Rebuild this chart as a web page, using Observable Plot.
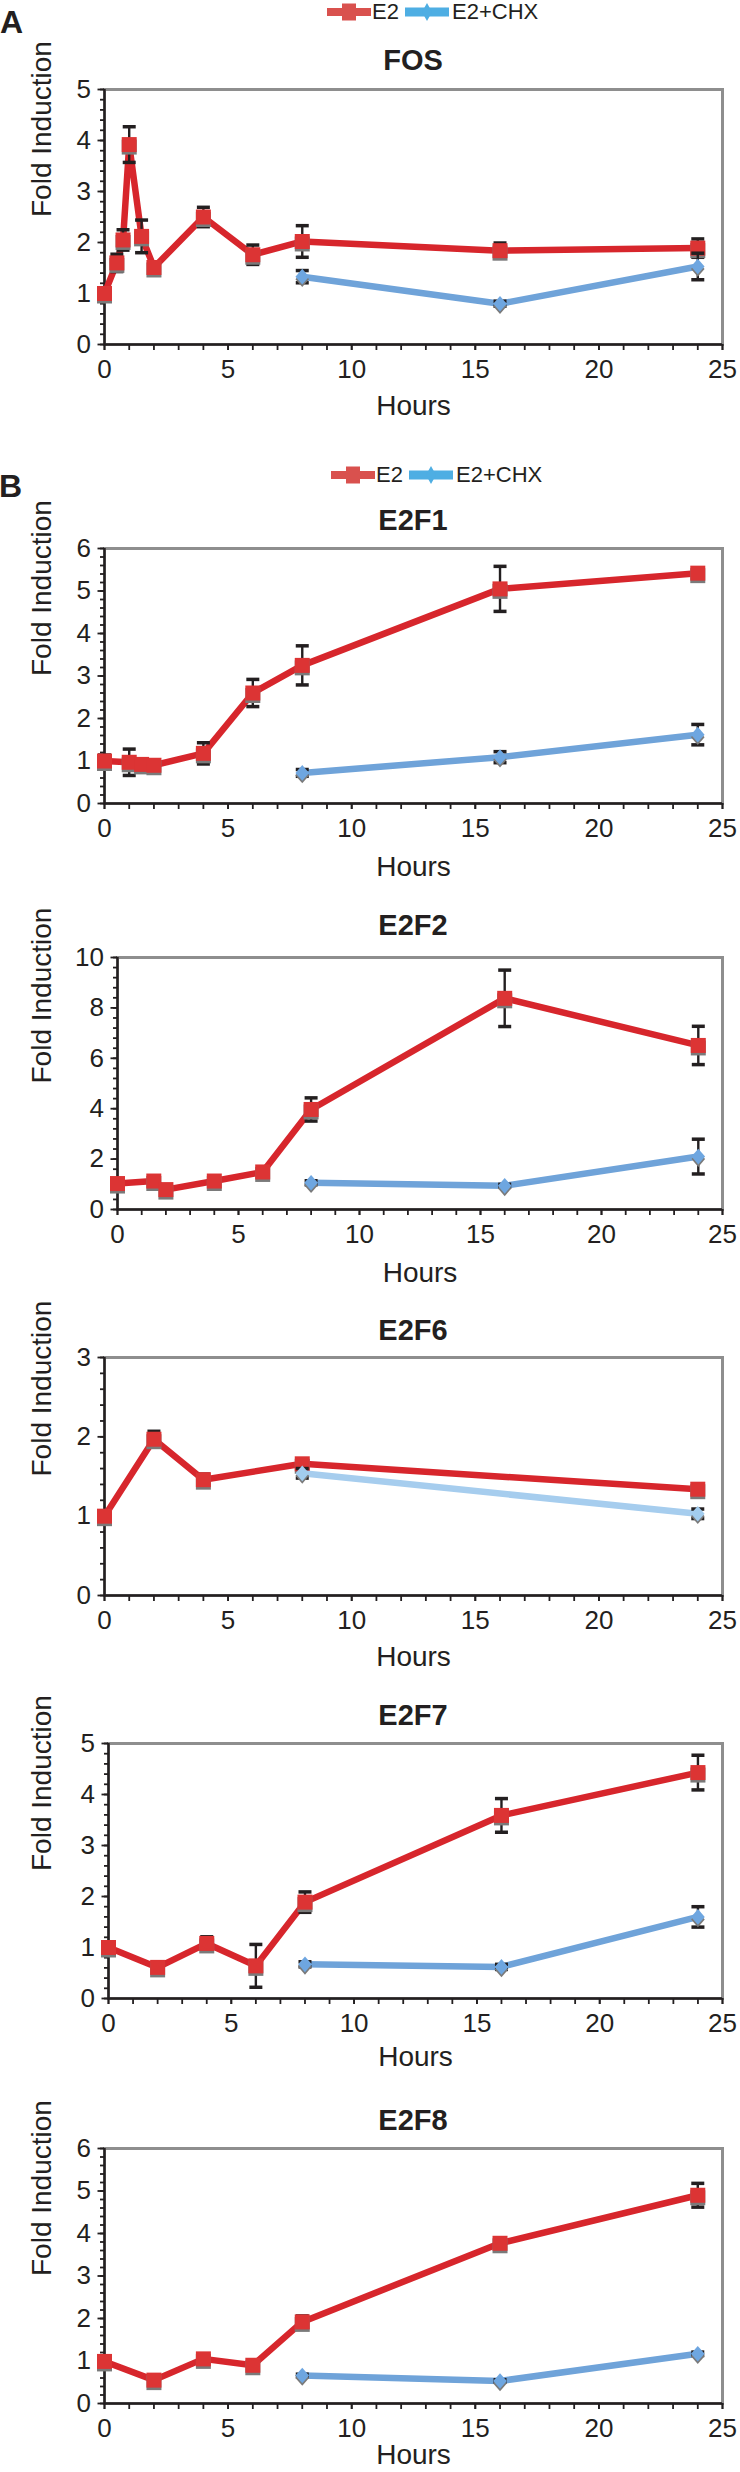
<!DOCTYPE html>
<html>
<head>
<meta charset="utf-8">
<script src="https://cdn.jsdelivr.net/npm/d3@7"></script>
<script src="https://cdn.jsdelivr.net/npm/@observablehq/plot@0.6"></script>
<style>
  body { margin: 0; background: #fff; }
  #root { position: relative; width: 740px; height: 2472px; overflow: hidden;
          font-family: "Liberation Sans", Arial, Helvetica, sans-serif; color: #231f20; }
  .abs { position: absolute; line-height: 1; white-space: nowrap; }
  .ttl { font-weight: bold; font-size: 29px; text-align: center; width: 300px; }
  .panel-letter { font-weight: bold; font-size: 32px; }
  .leg { font-size: 22px; }
</style>
</head>
<body>
<div id="root"></div>
<script>
// ---------------- DATA ----------------
const chxHours = [8, 16, 24];

const fosHours = [0, 0.5, 0.75, 1, 1.5, 2, 4, 6, 8, 16, 24];
const fosE2    = [1.00, 1.60, 2.05, 3.92, 2.12, 1.51, 2.50, 1.76, 2.02, 1.84, 1.89];
const fosE2Err = [0.08, 0.17, 0.20, 0.35, 0.32, 0.10, 0.19, 0.19, 0.31, 0.15, 0.18];
const fosCHX    = [1.33, 0.80, 1.53];
const fosCHXErr = [0.12, 0.05, 0.26];

const e2f1Hours = [0, 1, 1.5, 2, 4, 6, 8, 16, 24];
const e2f1E2    = [1.00, 0.97, 0.92, 0.90, 1.18, 2.60, 3.25, 5.05, 5.42];
const e2f1E2Err = [0.14, 0.31, 0.05, 0.06, 0.25, 0.32, 0.46, 0.53, 0.06];
const e2f1CHX    = [0.72, 1.09, 1.62];
const e2f1CHXErr = [0.08, 0.13, 0.24];

const e2f2Hours = [0, 1.5, 2, 4, 6, 8, 16, 24];
const e2f2E2    = [1.03, 1.13, 0.79, 1.13, 1.49, 3.97, 8.38, 6.51];
const e2f2E2Err = [0.10, 0.12, 0.10, 0.10, 0.12, 0.46, 1.12, 0.76];
const e2f2CHX    = [1.06, 0.94, 2.10];
const e2f2CHXErr = [0.08, 0.06, 0.69];

const e2f6Hours = [0, 2, 4, 8, 24];
const e2f6E2    = [1.00, 1.97, 1.46, 1.66, 1.34];
const e2f6E2Err = [0.03, 0.10, 0.07, 0.06, 0.06];
const e2f6CHXHours = [8, 24];
const e2f6CHX    = [1.54, 1.03];
const e2f6CHXErr = [0.06, 0.06];

const e2f7Hours = [0, 2, 4, 6, 8, 16, 24];
const e2f7E2    = [1.00, 0.61, 1.08, 0.64, 1.89, 3.59, 4.43];
const e2f7E2Err = [0.06, 0.05, 0.13, 0.42, 0.20, 0.33, 0.34];
const e2f7CHX    = [0.67, 0.62, 1.60];
const e2f7CHXErr = [0.05, 0.05, 0.20];

const e2f8Hours = [0, 2, 4, 6, 8, 16, 24];
const e2f8E2    = [0.99, 0.55, 1.05, 0.90, 1.92, 3.77, 4.90];
const e2f8E2Err = [0.04, 0.05, 0.06, 0.06, 0.14, 0.13, 0.28];
const e2f8CHX    = [0.66, 0.53, 1.17];
const e2f8CHXErr = [0.03, 0.03, 0.04];

const xTickLabels = [0, 5, 10, 15, 20, 25];
const seriesNames = ["E2", "E2+CHX"];
const yLabel = "Fold Induction";
const xLabel = "Hours";

// ---------------- STYLE ----------------
const INK = "#231f20";
const FONT = "'Liberation Sans', Arial, Helvetica, sans-serif";
const RED_LINE = "#d7262c", RED_MARK = "#dc3434";
const BLUE_LINE = "#6fa3d9", BLUE_MARK = "#6ea6e0";
const LBLUE_LINE = "#a6cdee", LBLUE_MARK = "#a2ccee";

const squareSym = { draw(ctx, size) { const r = Math.sqrt(size / Math.PI); ctx.rect(-r, -r, 2 * r, 2 * r); } };
const diamondSym = { draw(ctx, size) { const r = Math.sqrt(size / Math.PI); ctx.moveTo(0, -r * 1.15); ctx.lineTo(r, 0); ctx.lineTo(0, r * 1.15); ctx.lineTo(-r, 0); ctx.closePath(); } };
const capSym = { draw(ctx, size) { const r = Math.sqrt(size / Math.PI); ctx.moveTo(-r, 0); ctx.lineTo(r, 0); } };

const panels = [
  { name: "FOS",  hours: fosHours,  e2: fosE2,  e2Err: fosE2Err,  chxH: chxHours, chx: fosCHX,  chxErr: fosCHXErr,
    top: 89,   bottom: 344,  left: 104, titleY: 60,   hoursDy: 62, yTicks: [0,1,2,3,4,5], yMinor: 0.2, light: false },
  { name: "E2F1", hours: e2f1Hours, e2: e2f1E2, e2Err: e2f1E2Err, chxH: chxHours, chx: e2f1CHX, chxErr: e2f1CHXErr,
    top: 548,  bottom: 803,  left: 104, titleY: 520,  hoursDy: 64, yTicks: [0,1,2,3,4,5,6], yMinor: 0.2, light: false },
  { name: "E2F2", hours: e2f2Hours, e2: e2f2E2, e2Err: e2f2E2Err, chxH: chxHours, chx: e2f2CHX, chxErr: e2f2CHXErr,
    top: 957,  bottom: 1209, left: 117, titleY: 925,  hoursDy: 64, yTicks: [0,2,4,6,8,10], yMinor: 0.4, light: false },
  { name: "E2F6", hours: e2f6Hours, e2: e2f6E2, e2Err: e2f6E2Err, chxH: e2f6CHXHours, chx: e2f6CHX, chxErr: e2f6CHXErr,
    top: 1357, bottom: 1595, left: 104, titleY: 1330, hoursDy: 62, yTicks: [0,1,2,3], yMinor: 0.2, light: true },
  { name: "E2F7", hours: e2f7Hours, e2: e2f7E2, e2Err: e2f7E2Err, chxH: chxHours, chx: e2f7CHX, chxErr: e2f7CHXErr,
    top: 1743, bottom: 1998, left: 108, titleY: 1715, hoursDy: 59, yTicks: [0,1,2,3,4,5], yMinor: 0.2, light: false },
  { name: "E2F8", hours: e2f8Hours, e2: e2f8E2, e2Err: e2f8E2Err, chxH: chxHours, chx: e2f8CHX, chxErr: e2f8CHXErr,
    top: 2148, bottom: 2403, left: 104, titleY: 2120, hoursDy: 52, yTicks: [0,1,2,3,4,5,6], yMinor: 0.2, light: false }
];

const root = document.getElementById("root");

function addDiv(cls, text, left, top, extra) {
  const d = document.createElement("div");
  d.className = "abs " + cls;
  d.textContent = text;
  d.style.left = left + "px";
  d.style.top = top + "px";
  if (extra) Object.assign(d.style, extra);
  root.appendChild(d);
  return d;
}

function series(rows, s) {
  return [
    Plot.line(rows, { x: "h", y: "v", stroke: s.line, strokeWidth: 6.5, strokeLinejoin: "miter", strokeLinecap: "butt" }),
    Plot.ruleX(rows, { x: "h", y1: d => d.v - d.e, y2: d => d.v + d.e, stroke: INK, strokeWidth: 2.4 }),
    Plot.dot(rows, { x: "h", y: d => d.v + d.e, symbol: capSym, r: 6.5, stroke: INK, strokeWidth: 3.5, fill: "none" }),
    Plot.dot(rows, { x: "h", y: d => d.v - d.e, symbol: capSym, r: 6.5, stroke: INK, strokeWidth: 3.5, fill: "none" }),
    Plot.dot(rows, { x: "h", y: "v", symbol: s.sym, r: s.r, fill: "#7a7a7a", stroke: "none", dy: 2.5 }),
    Plot.dot(rows, { x: "h", y: "v", symbol: s.sym, r: s.r, fill: s.fill, stroke: "none" })
  ];
}

const intFmt = d => String(d);

function drawPanel(p) {
  const e2Rows = p.hours.map((h, i) => ({ h, v: p.e2[i], e: p.e2Err[i] }));
  const chxRows = p.chxH.map((h, i) => ({ h, v: p.chx[i], e: p.chxErr[i] }));
  const yMax = p.yTicks[p.yTicks.length - 1];
  const yMinor = d3.range(0, yMax + 1e-9, p.yMinor);
  const xMinor = d3.range(0, 25 + 1e-9, 1);
  const mt = 14, mb = 90;
  const svg = Plot.plot({
    width: 740,
    height: mt + (p.bottom - p.top) + mb,
    marginLeft: p.left, marginRight: 18, marginTop: mt, marginBottom: mb,
    x: { domain: [0, 25] },
    y: { domain: [0, yMax] },
    style: { fontFamily: FONT, fontSize: "26px", color: INK, background: "transparent", overflow: "visible" },
    marks: [
      Plot.frame({ stroke: "#8e8e8e", strokeWidth: 3 }),
      Plot.axisX(xMinor, { tickSize: 6, tickFormat: () => "", strokeWidth: 1.8, label: null }),
      Plot.axisX(xTickLabels, { tickSize: 6, tickPadding: 9, tickFormat: intFmt, strokeWidth: 1.8, label: null, fontSize: 26 }),
      Plot.axisY(yMinor, { tickSize: 4, tickFormat: () => "", strokeWidth: 1.8, label: null }),
      Plot.axisY(p.yTicks, { tickSize: 6.5, tickPadding: 7, tickFormat: intFmt, strokeWidth: 1.8, label: null, fontSize: 26 }),
      Plot.ruleX([0], { stroke: INK, strokeWidth: 2.4 }),
      Plot.ruleY([0], { stroke: INK, strokeWidth: 2.4 }),
      Plot.text([yLabel], { text: d => d, frameAnchor: "left", dx: 42 - p.left, rotate: -90, lineAnchor: "middle", fontSize: 28, fill: INK }),
      Plot.text([xLabel], { text: d => d, frameAnchor: "bottom", dy: p.hoursDy, lineAnchor: "middle", fontSize: 28, fill: INK }),
      ...series(e2Rows, { line: RED_LINE, fill: RED_MARK, sym: squareSym, r: 7.5 }),
      ...series(chxRows, { line: p.light ? LBLUE_LINE : BLUE_LINE, fill: p.light ? LBLUE_MARK : BLUE_MARK, sym: diamondSym, r: 6.8 })
    ]
  });
  svg.style.position = "absolute";
  svg.style.left = "0px";
  svg.style.top = (p.top - mt) + "px";
  root.appendChild(svg);
  addDiv("ttl", p.name, 413 - 150, p.titleY - 14.5);
}

function swatch(left, cy, color, kind) {
  const ns = "http://www.w3.org/2000/svg";
  const s = document.createElementNS(ns, "svg");
  s.setAttribute("width", 44); s.setAttribute("height", 22);
  s.style.position = "absolute"; s.style.left = left + "px"; s.style.top = (cy - 11) + "px";
  const ln = document.createElementNS(ns, "line");
  ln.setAttribute("x1", 0); ln.setAttribute("x2", 44); ln.setAttribute("y1", 11); ln.setAttribute("y2", 11);
  ln.setAttribute("stroke", color); ln.setAttribute("stroke-width", kind === "sq" ? 8 : 9);
  s.appendChild(ln);
  const m = document.createElementNS(ns, "path");
  m.setAttribute("d", kind === "sq" ? "M15,2.5h14v17h-14z" : "M22,2l5,9l-5,9l-5,-9z");
  m.setAttribute("fill", color);
  s.appendChild(m);
  root.appendChild(s);
}

function legend(dx, cy) {
  swatch(327 + dx, cy, "#d9514e", "sq");
  addDiv("leg", seriesNames[0], 372 + dx, cy - 11);
  swatch(405 + dx, cy, "#4eaee3", "di");
  addDiv("leg", seriesNames[1], 452 + dx, cy - 11);
}

legend(0, 12);
legend(4, 475);
addDiv("panel-letter", "A", 0, 5.5);
addDiv("panel-letter", "B", -1, 469.5);

panels.forEach(drawPanel);
</script>
</body>
</html>
